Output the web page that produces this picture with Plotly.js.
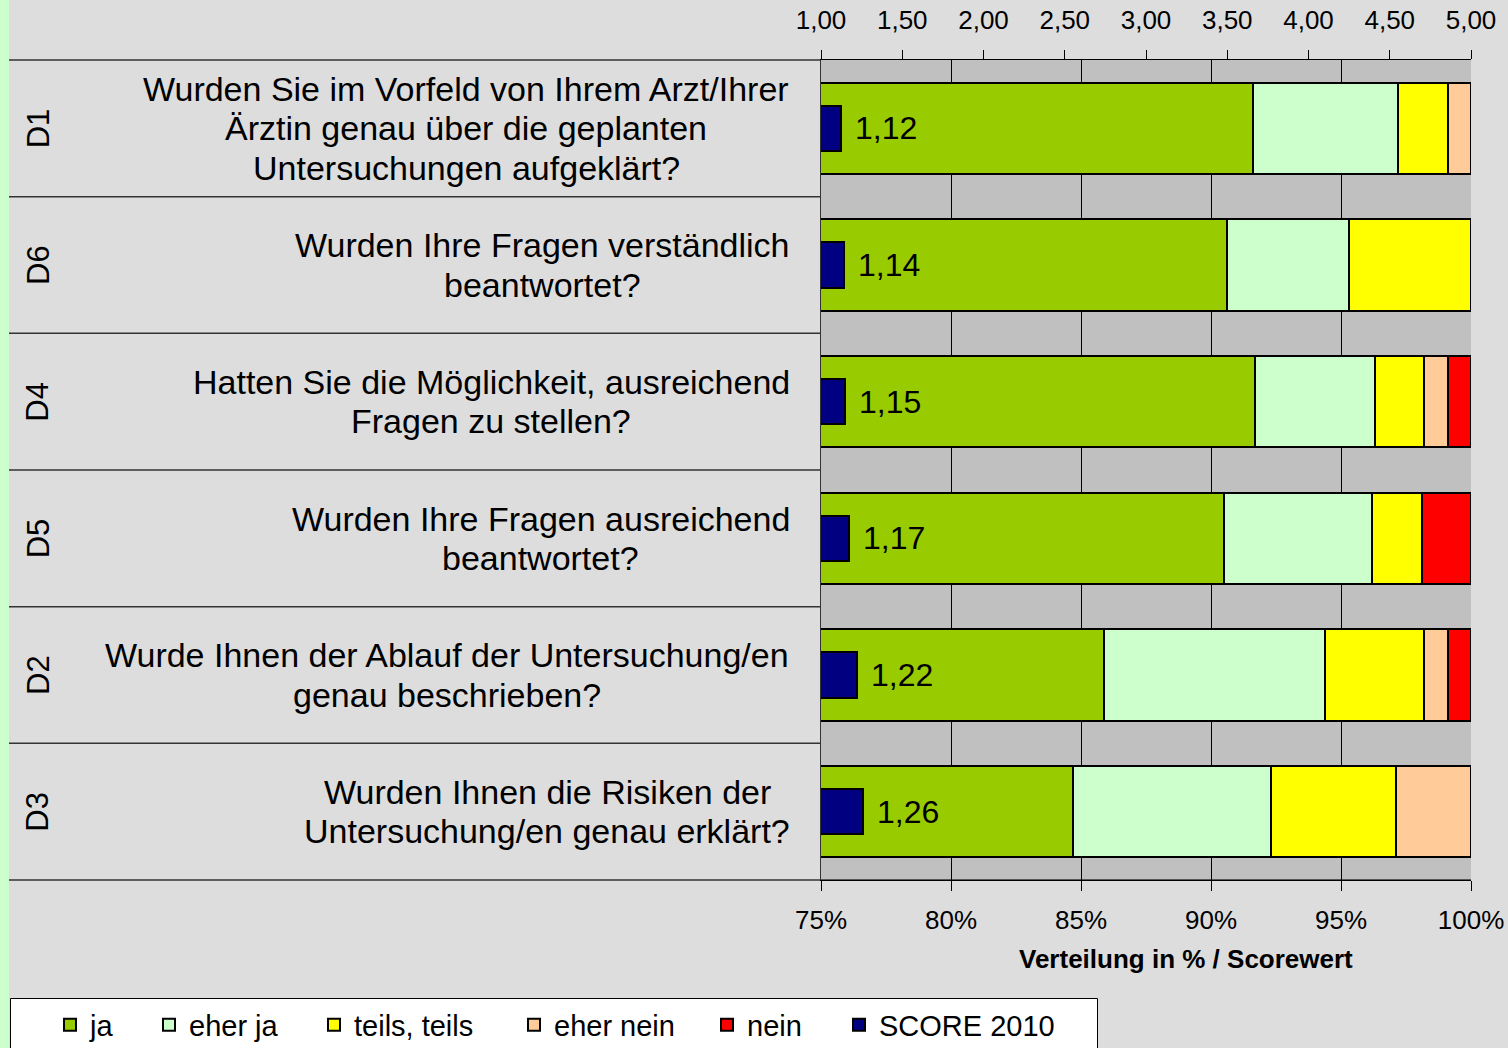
<!DOCTYPE html>
<html>
<head>
<meta charset="utf-8">
<script src="https://cdn.plot.ly/plotly-3.0.1.min.js"></script>
<style>
html,body{margin:0;padding:0;background:#dddddd;}
#chart{width:1508px;height:1048px;}
</style>
</head>
<body>
<div id="chart"></div>
<script>
// ---- data ----
var codes = ['D1', 'D6', 'D4', 'D5', 'D2', 'D3'];
var questions = [
  'Wurden Sie im Vorfeld von Ihrem Arzt/Ihrer<br>Ärztin genau über die geplanten<br>Untersuchungen aufgeklärt?',
  'Wurden Ihre Fragen verständlich<br>beantwortet?',
  'Hatten Sie die Möglichkeit, ausreichend<br>Fragen zu stellen?',
  'Wurden Ihre Fragen ausreichend<br>beantwortet?',
  'Wurde Ihnen der Ablauf der Untersuchung/en<br>genau beschrieben?',
  'Wurden Ihnen die Risiken der<br>Untersuchung/en genau erklärt?'
];
var ja       = [91.6, 90.6, 91.7, 90.5, 85.9, 84.7];
var eherJa   = [5.6, 4.7, 4.6, 5.7, 8.5, 7.6];
var teils    = [1.9, 4.7, 1.9, 1.9, 3.8, 4.8];
var eherNein = [0.9, 0, 0.9, 0, 0.9, 2.9];
var nein     = [0, 0, 0.9, 1.9, 0.9, 0];
var score    = [1.12, 1.14, 1.15, 1.17, 1.22, 1.26];
var seriesNames = ['ja', 'eher ja', 'teils, teils', 'eher nein', 'nein', 'SCORE 2010'];
var pctTicks = [75, 80, 85, 90, 95, 100];
var scoreTicks = [1, 1.5, 2, 2.5, 3, 3.5, 4, 4.5, 5];

// ---- geometry helpers (pixels -> paper) ----
var W = 1508, H = 1048;
var mL = 821, mR = 37, mT = 60, mB = 168;
var pw = W - mL - mR, ph = H - mT - mB;
function px(x) { return (x - mL) / pw; }
function py(y) { return (H - mB - y) / ph; }

var FONT = 'Liberation Sans, Arial, sans-serif';
var Q_SIZE = 34;
var colors = ['#99cc00', '#ccffcc', '#ffff00', '#ffcc99', '#ff0000', '#000080'];
var stackVals = [ja, eherJa, teils, eherNein, nein];
var legendIds = ['legend', 'legend2', 'legend3', 'legend4', 'legend5', 'legend6'];
var legendSquareX = [72, 171, 336, 536, 729, 861];

// text measuring (to centre each line inside a right-aligned block)
var ctx = document.createElement('canvas').getContext('2d');
ctx.font = Q_SIZE + 'px "Liberation Sans", Arial, sans-serif';
function textW(s) { return ctx.measureText(s).width; }

var traces = [];
stackVals.forEach(function (vals, i) {
  traces.push({
    type: 'bar', orientation: 'h',
    name: seriesNames[i], x: vals, y: codes,
    xaxis: 'x', yaxis: 'y',
    width: 0.667,
    marker: { color: colors[i], line: { color: '#000000', width: 2 } },
    legend: legendIds[i], showlegend: true,
    hoverinfo: 'x+name'
  });
});
traces.push({
  type: 'bar', orientation: 'h',
  name: seriesNames[5], x: score, y: codes,
  xaxis: 'x2', yaxis: 'y',
  width: 0.333,
  marker: { color: colors[5], line: { color: '#000000', width: 2 } },
  legend: legendIds[5], showlegend: true,
  hoverinfo: 'x+name'
});

var LINE_H = 39.5;
var RIGHT_GAP = 31;
var annotations = [];
codes.forEach(function (c, i) {
  var lines = questions[i].split('<br>');
  var blockW = Math.max.apply(null, lines.map(textW));
  lines.forEach(function (ln, j) {
    annotations.push({
      xref: 'paper', yref: 'y', x: 0, y: c,
      xshift: -RIGHT_GAP - blockW / 2,
      yshift: ((lines.length - 1) / 2 - j) * LINE_H,
      xanchor: 'center', yanchor: 'middle', align: 'center',
      text: ln, showarrow: false,
      font: { family: FONT, size: Q_SIZE, color: '#000000' }
    });
  });
  annotations.push({
    xref: 'paper', yref: 'y', x: px(38), y: c,
    xanchor: 'center', yanchor: 'middle', textangle: -90,
    text: c, showarrow: false,
    font: { family: FONT, size: 31, color: '#000000' }
  });
  annotations.push({
    xref: 'x2', yref: 'y', x: score[i], y: c, xshift: 12,
    xanchor: 'left', yanchor: 'middle',
    text: score[i].toFixed(2).replace('.', ','), showarrow: false,
    font: { family: FONT, size: 32, color: '#000000' }
  });
});
annotations.push({
  xref: 'paper', yref: 'paper', x: px(1186), y: py(959),
  xanchor: 'center', yanchor: 'middle',
  text: '<b>Verteilung in % / Scorewert</b>', showarrow: false,
  font: { family: FONT, size: 26, color: '#000000' }
});

var shapes = [];
// left green strip
shapes.push({ type: 'rect', xref: 'paper', yref: 'paper', x0: px(-2), x1: px(9), y0: py(H + 5), y1: py(-5),
  fillcolor: '#ccffcc', line: { width: 0 }, layer: 'below' });
// legend box
shapes.push({ type: 'rect', xref: 'paper', yref: 'paper', x0: px(10.5), x1: px(1097.5), y0: py(H + 10), y1: py(998.5),
  fillcolor: '#ffffff', line: { color: '#000000', width: 1 }, layer: 'below' });
// row separators in label area
for (var k = 0; k <= codes.length; k++) {
  shapes.push({ type: 'line', xref: 'paper', yref: 'paper', x0: px(9), x1: (k === 0 ? 1 : 0),
    y0: k / codes.length, y1: k / codes.length, line: { color: '#333333', width: 1.5 }, layer: 'below' });
}

var layout = {
  width: W, height: H,
  margin: { l: mL, r: mR, t: mT, b: mB, pad: 0, autoexpand: false },
  paper_bgcolor: '#dddddd', plot_bgcolor: '#c0c0c0',
  separators: ',.',
  barmode: 'stack',
  showlegend: true,
  font: { family: FONT, size: 26, color: '#000000' },
  xaxis: {
    range: [75, 100], tickvals: pctTicks, ticktext: pctTicks.map(function (v) { return v + '%'; }),
    ticks: 'outside', ticklen: 10, tickcolor: '#000000', tickwidth: 1,
    showline: true, linecolor: '#000000', linewidth: 1,
    showgrid: true, gridcolor: '#000000', gridwidth: 1, zeroline: false,
    ticklabelstandoff: 7,
    tickfont: { family: FONT, size: 26, color: '#000000' },
    fixedrange: true
  },
  xaxis2: {
    overlaying: 'x', side: 'top', range: [1, 5], tickvals: scoreTicks, tickformat: '.2f',
    ticks: 'outside', ticklen: 9, tickcolor: '#000000', tickwidth: 1,
    showline: true, linecolor: '#000000', linewidth: 1,
    showgrid: false, zeroline: false,
    ticklabelstandoff: 11,
    tickfont: { family: FONT, size: 26, color: '#000000' },
    fixedrange: true
  },
  yaxis: {
    type: 'category', categoryorder: 'array', categoryarray: codes, autorange: 'reversed',
    showticklabels: false, ticks: '', showgrid: false, zeroline: false,
    showline: true, linecolor: '#333333', linewidth: 1,
    fixedrange: true
  },
  annotations: annotations,
  shapes: shapes,
  hovermode: 'closest'
};
legendIds.forEach(function (id, i) {
  layout[id] = {
    orientation: 'h', x: px(legendSquareX[i] - 22), y: py(1025),
    xanchor: 'left', yanchor: 'middle',
    bgcolor: 'rgba(0,0,0,0)', borderwidth: 0,
    font: { family: FONT, size: 29, color: '#000000' }
  };
});

Plotly.newPlot('chart', traces, layout, { displayModeBar: false });
</script>
</body>
</html>
